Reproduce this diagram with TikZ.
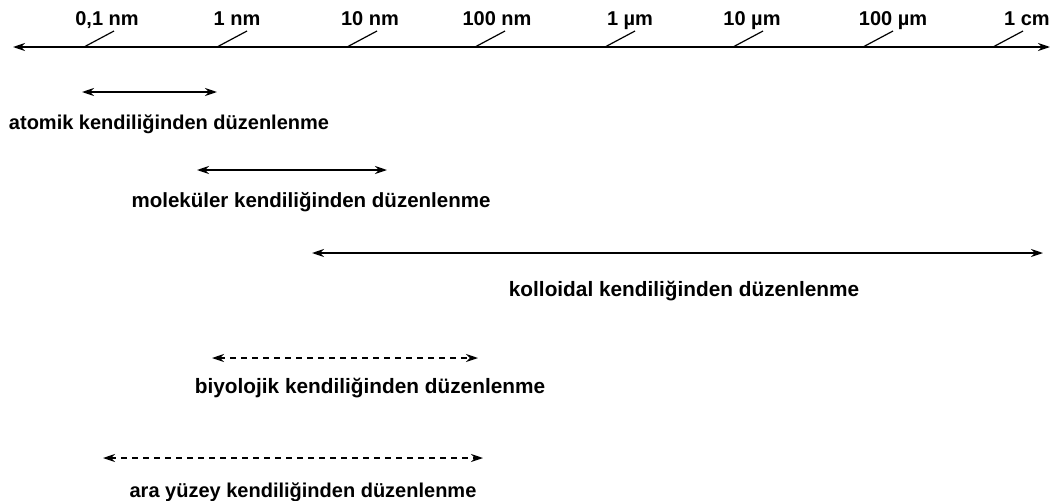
\documentclass[tikz,border=0pt]{standalone}
\usepackage{fontspec}
\setmainfont{Liberation Sans}
\usetikzlibrary{arrows.meta}
\tikzset{
  lbl/.style={font=\fontsize{#1}{25}\selectfont\bfseries, inner sep=0pt, anchor=base},
  lbl/.default=20.8,
  axlbl/.style={font=\fontsize{20}{24}\selectfont\bfseries, inner sep=0pt, anchor=base},
  axisline/.style={line width=1.7pt, {Stealth[length=12pt,width=8pt]}-{Stealth[length=12pt,width=8pt]}},
  tickline/.style={line width=1.2pt},
  rng/.style={line width=1.7pt, {Stealth[length=12pt,width=8pt]}-{Stealth[length=12pt,width=8pt]}},
  rngd/.style={rng, dash pattern=on 6pt off 5pt}
}
\begin{document}
\begin{tikzpicture}[x=1pt,y=-1pt]
\useasboundingbox (0,0) rectangle (1053,501);
% axis
\coordinate (axL) at (13,47);
\coordinate (axR) at (1050,47);
\draw[axisline] (axL) -- (axR);
% ticks and labels
\foreach \tx/\lx/\txt [count=\i] in {84/107/{0,1 nm},217/237/{1 nm},347/370/{10 nm},475/497/{100 nm},605/630/{1 µm},733/752/{10 µm},863/893/{100 µm},993/1027/{1 cm}}{
  \coordinate (t\i) at (\tx,47);
  \coordinate (u\i) at (\tx+30,31);
  \draw[tickline] (t\i) -- (u\i);
  \node[axlbl] (l\i) at (\lx,25) {\txt};
}
% ranges
\coordinate (a1) at (82,92);  \coordinate (a2) at (217,92);
\draw[rng] (a1) -- (a2);
\node[lbl=20] (ta) at (169,129) {atomik kendiliğinden düzenlenme};

\coordinate (m1) at (197,170); \coordinate (m2) at (387,170);
\draw[rng] (m1) -- (m2);
\node[lbl=20.5] (tm) at (311,207) {moleküler kendiliğinden düzenlenme};

\coordinate (k1) at (312,253); \coordinate (k2) at (1043,253);
\draw[rng] (k1) -- (k2);
\node[lbl] (tk) at (684,296) {kolloidal kendiliğinden düzenlenme};

\coordinate (b1) at (212,358); \coordinate (b2) at (478,358);
\draw[rngd] (b1) -- (b2);
\node[lbl] (tb) at (370,393) {biyolojik kendiliğinden düzenlenme};

\coordinate (y1) at (103,458); \coordinate (y2) at (483,458);
\draw[rngd] (y1) -- (y2);
\node[lbl=20] (ty) at (303,497) {ara yüzey kendiliğinden düzenlenme};
\end{tikzpicture}
\end{document}
